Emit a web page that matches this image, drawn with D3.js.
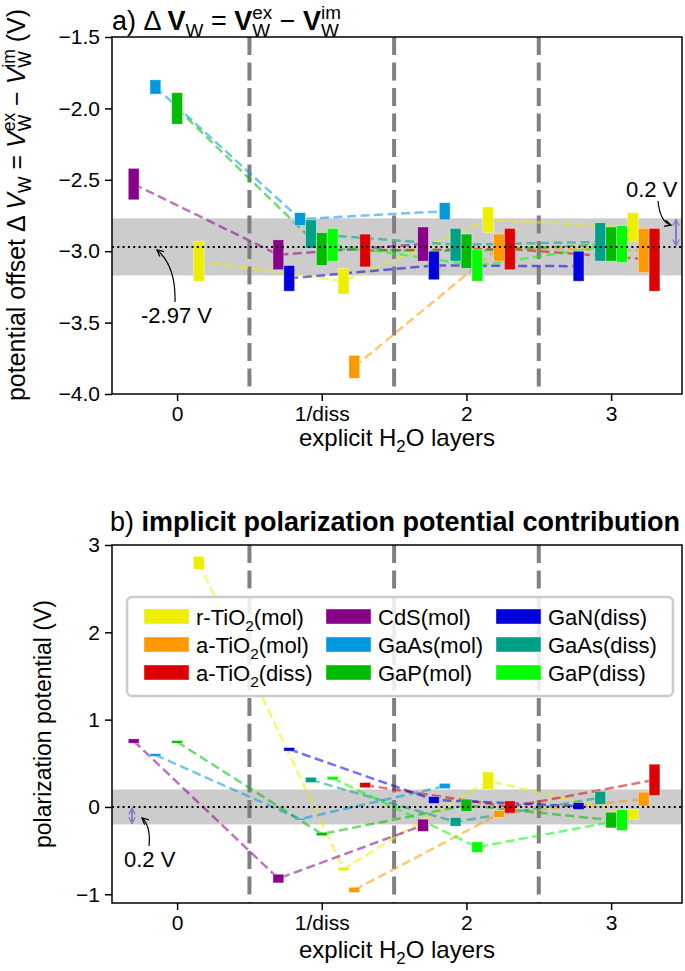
<!DOCTYPE html>
<html>
<head>
<meta charset="utf-8">
<script src="https://cdn.jsdelivr.net/npm/d3@7"></script>
<style>
  body { margin: 0; background: #fff; }
  svg text { font-family: "Liberation Sans", Arial, Helvetica, sans-serif; white-space: pre; fill: #000; }
</style>
</head>
<body>
<svg id="chart" width="685" height="971"></svg>
<script>
// layers on the x axis
const groups = ["0", "1/diss", "2", "3"];
// systems, in legend order
const systems = ["r-TiO2(mol)", "a-TiO2(mol)", "a-TiO2(diss)", "CdS(mol)", "GaAs(mol)", "GaP(mol)", "GaN(diss)", "GaAs(diss)", "GaP(diss)"];
const colors = ["#eeee00", "#ff9900", "#dd0000", "#880088", "#0099dd", "#00bb00", "#0000dd", "#00a088", "#00ff00"];
// side-by-side order of the bars inside one layer group
const slotOrder = ["CdS(mol)", "GaN(diss)", "GaAs(mol)", "GaAs(diss)", "GaP(mol)", "GaP(diss)", "r-TiO2(mol)", "a-TiO2(mol)", "a-TiO2(diss)"];

// panel a: potential offset range (V), rows follow `systems`, null = no data
const dvLow = [
  [-3.21, -3.30, -2.87, -2.93],
  [null, -3.89, -3.07, -3.15],
  [null, -3.11, -3.13, -3.28],
  [-2.64, -3.13, -3.07, null],
  [-1.90, -2.82, -2.78, null],
  [-2.11, -3.10, -3.12, -3.07],
  [null, -3.28, -3.20, -3.21],
  [null, -2.98, -3.07, -3.07],
  [null, -3.07, -3.21, -3.08]
];
const dvHigh = [
  [-2.93, -3.12, -2.69, -2.73],
  [null, -3.73, -2.88, -2.84],
  [null, -2.88, -2.84, -2.84],
  [-2.42, -2.92, -2.83, null],
  [-1.80, -2.73, -2.66, null],
  [-1.89, -2.87, -2.88, -2.83],
  [null, -3.10, -3.00, -3.00],
  [null, -2.78, -2.84, -2.80],
  [null, -2.84, -2.99, -2.82]
];
// panel b: polarization potential range (V)
const polLow = [
  [2.72, -0.73, 0.20, -0.14],
  [null, -0.98, -0.12, 0.01],
  [null, 0.22, -0.07, 0.13],
  [0.73, -0.87, -0.28, null],
  [0.58, -0.15, 0.21, null],
  [0.73, -0.33, -0.05, -0.24],
  [null, 0.64, 0.04, -0.03],
  [null, 0.28, -0.22, 0.03],
  [null, 0.31, -0.52, -0.27]
];
const polHigh = [
  [2.87, -0.69, 0.40, -0.03],
  [null, -0.92, -0.04, 0.17],
  [null, 0.28, 0.07, 0.49],
  [0.78, -0.77, -0.14, null],
  [0.61, -0.13, 0.27, null],
  [0.76, -0.29, 0.09, -0.06],
  [null, 0.68, 0.12, 0.05],
  [null, 0.34, -0.12, 0.18],
  [null, 0.35, -0.40, -0.03]
];
const dvMean = -2.97;
const dvTicks = [-1.5, -2.0, -2.5, -3.0, -3.5, -4.0];
const polTicks = [3, 2, 1, 0, -1];
const bandHalf = 0.2;

const svg = d3.select("#chart");
const left = 112, right = 682;
const x = d3.scaleLinear().domain([-0.45, 3.49]).range([left, right]);
const slot = d3.scaleBand().domain(slotOrder).range([-0.3375, 0.3375]);

// text made of pieces (sub/superscripts, bold, italic)
function rich(sel, parts, size) {
  const g = sel.append("g");
  let cx = 0, prevX = 0, prevW = 0;
  parts.forEach(p => {
    const fs = p.small ? size * 0.7 : size;
    const t = g.append("text")
      .attr("x", p.stack ? prevX : cx)
      .attr("y", (p.shift || 0) * size / 20)
      .style("font-size", fs + "px")
      .style("font-weight", p.bold ? "bold" : "normal")
      .style("font-style", p.italic ? "italic" : "normal")
      .text(p.t);
    const w = t.node().getComputedTextLength();
    if (p.stack) {
      cx = prevX + Math.max(prevW, w);
    } else {
      prevX = cx; prevW = w; cx += w;
    }
  });
  g.width = cx;
  return g;
}
const sub = t => ({ t: t, small: true, shift: 5 });
const sup = t => ({ t: t, small: true, shift: -8 });
const subS = t => ({ t: t, small: true, shift: 5, stack: true });

function placeMiddle(g, cx, cy, rot) {
  g.attr("transform", "translate(" + cx + "," + cy + ")" + (rot ? " rotate(" + rot + ")" : "") + " translate(" + (-g.width / 2) + ",0)");
}

const defs = svg.append("defs");
function head(id, color) {
  defs.append("marker").attr("id", id)
    .attr("viewBox", "0 0 10 10").attr("refX", 9).attr("refY", 5)
    .attr("markerUnits", "userSpaceOnUse").attr("markerWidth", 8).attr("markerHeight", 8)
    .attr("orient", "auto-start-reverse")
    .append("path").attr("d", "M1,1 L9,5 L1,9")
    .attr("fill", "none").attr("stroke", color).attr("stroke-width", 1.6);
}
head("hk", "#000");
head("hv", "#7f7fc8");

function panel(top, bottom, domain, ticks, fmt, lo, hi, ref, labelGap) {
  const y = d3.scaleLinear().domain(domain).range([bottom, top]);
  const g = svg.append("g");

  g.append("rect")
    .attr("x", left).attr("width", right - left)
    .attr("y", y(ref + bandHalf)).attr("height", y(ref - bandHalf) - y(ref + bandHalf))
    .attr("fill", "#cccccc");

  g.selectAll("line.sep").data([0.5, 1.5, 2.5]).enter().append("line")
    .attr("class", "sep")
    .attr("x1", d => x(d)).attr("x2", d => x(d))
    .attr("y1", top).attr("y2", bottom)
    .attr("stroke", "#808080").attr("stroke-width", 4)
    .attr("stroke-dasharray", "18,7.5");

  const line = d3.line();
  systems.forEach((s, i) => {
    const pts = [];
    groups.forEach((gr, j) => {
      if (lo[i][j] == null) return;
      pts.push([x(j + slot(s) + slot.bandwidth() / 2), y((lo[i][j] + hi[i][j]) / 2)]);
    });
    g.append("path").attr("d", line(pts))
      .attr("fill", "none").attr("stroke", colors[i]).attr("stroke-width", 2.5)
      .attr("stroke-opacity", 0.55).attr("stroke-dasharray", "9,4.5");
  });

  systems.forEach((s, i) => {
    groups.forEach((gr, j) => {
      if (lo[i][j] == null) return;
      g.append("rect")
        .attr("x", x(j + slot(s))).attr("width", x(slot.bandwidth()) - x(0))
        .attr("y", y(hi[i][j])).attr("height", y(lo[i][j]) - y(hi[i][j]))
        .attr("fill", colors[i]).attr("stroke", "#fff").attr("stroke-opacity", 0.5).attr("stroke-width", 0.8);
    });
  });

  g.append("line")
    .attr("x1", left).attr("x2", right).attr("y1", y(ref)).attr("y2", y(ref))
    .attr("stroke", "#000").attr("stroke-width", 2).attr("stroke-dasharray", "2,3.3");

  const ay = g.append("g").attr("transform", "translate(" + left + ",0)")
    .call(d3.axisLeft(y).tickValues(ticks).tickFormat(fmt).tickSize(7).tickPadding(5));
  const ax = g.append("g").attr("transform", "translate(0," + bottom + ")")
    .call(d3.axisBottom(x).tickValues([0, 1, 2, 3]).tickFormat((d, k) => groups[k]).tickSize(7).tickPadding(5));
  [ay, ax].forEach(a => {
    a.select(".domain").remove();
    a.selectAll("line").attr("stroke-width", 1.5);
    a.selectAll("text").style("font-size", "21px").attr("font-family", null);
  });

  g.append("rect").attr("x", left).attr("y", top).attr("width", right - left).attr("height", bottom - top)
    .attr("fill", "none").attr("stroke", "#000").attr("stroke-width", 1.5);

  const xl = rich(g, [{ t: "explicit H" }, sub("2"), { t: "O layers" }], 24);
  placeMiddle(xl, (left + right) / 2, bottom + labelGap);
  return y;
}

// panel a
const yA = panel(37, 394, [-4.0, -1.5], dvTicks, d3.format(".1f"), dvLow, dvHigh, dvMean, 52);
const tA = rich(svg, [
  { t: "a) Δ " }, { t: "V", bold: true }, sub("W"), { t: " = " },
  { t: "V", bold: true }, sup("ex"), subS("W"), { t: " − " },
  { t: "V", bold: true }, sup("im"), subS("W")
], 27);
tA.attr("transform", "translate(" + left + ",30)");

const lA = rich(svg, [
  { t: "potential offset Δ " }, { t: "V", italic: true }, sub("W"), { t: " = " },
  { t: "V", italic: true }, sup("ex"), subS("W"), { t: " − " },
  { t: "V", italic: true }, sup("im"), subS("W"), { t: " (V)" }
], 25);
placeMiddle(lA, 25, 205, -90);

// annotations panel a
svg.append("line")
  .attr("x1", 676).attr("x2", 676).attr("y1", yA(dvMean + bandHalf) + 1).attr("y2", yA(dvMean) - 1)
  .attr("stroke", "#7f7fc8").attr("stroke-width", 2)
  .attr("marker-start", "url(#hv)").attr("marker-end", "url(#hv)");
svg.append("text").attr("x", 626).attr("y", 197).style("font-size", "22px").text("0.2 V");
svg.append("path").attr("d", "M658,201 Q660,222 671,225")
  .attr("fill", "none").attr("stroke", "#000").attr("stroke-width", 1.2).attr("marker-end", "url(#hk)");
svg.append("text").attr("x", 141).attr("y", 323).style("font-size", "22px").text("-2.97 V");
svg.append("path").attr("d", "M175,302 Q176,266 157," + (yA(dvMean) + 3))
  .attr("fill", "none").attr("stroke", "#000").attr("stroke-width", 1.2).attr("marker-end", "url(#hk)");

// panel b
const yB = panel(545, 903, [-1.1, 3.0], polTicks, d3.format("d"), polLow, polHigh, 0, 55);
const tB = rich(svg, [{ t: "b) " }, { t: "implicit polarization potential contribution", bold: true }], 27);
tB.attr("transform", "translate(" + 110 + ",531)");
const lB = rich(svg, [{ t: "polarization potential (V)" }], 23);
placeMiddle(lB, 51, (545 + 903) / 2, -90);

svg.append("line")
  .attr("x1", 132).attr("x2", 132).attr("y1", yB(0) + 1).attr("y2", yB(-bandHalf) - 1)
  .attr("stroke", "#7f7fc8").attr("stroke-width", 2)
  .attr("marker-start", "url(#hv)").attr("marker-end", "url(#hv)");
svg.append("text").attr("x", 124).attr("y", 867).style("font-size", "22px").text("0.2 V");
svg.append("path").attr("d", "M149,846 Q151,826 142,818")
  .attr("fill", "none").attr("stroke", "#000").attr("stroke-width", 1.2).attr("marker-end", "url(#hk)");

// legend
const leg = svg.append("g");
leg.append("rect").attr("x", 127).attr("y", 597).attr("width", 546).attr("height", 99).attr("rx", 5)
  .attr("fill", "#fff").attr("fill-opacity", 0.85).attr("stroke", "#cccccc").attr("stroke-width", 2.5);
const colX = [144, 326, 496];
systems.forEach((s, i) => {
  const cx = colX[Math.floor(i / 3)], cy = 617 + (i % 3) * 28;
  leg.append("rect").attr("x", cx).attr("y", cy - 8).attr("width", 45).attr("height", 15)
    .attr("fill", colors[i]).attr("stroke", "#fff").attr("stroke-opacity", 0.5).attr("stroke-width", 0.8);
  const m = s.match(/^(.*?)(\d)(\(.*)$/);
  const parts = m ? [{ t: m[1] }, sub(m[2]), { t: m[3] }] : [{ t: s }];
  rich(leg, parts, 22).attr("transform", "translate(" + (cx + 52) + "," + (cy + 8) + ")");
});
</script>
</body>
</html>
